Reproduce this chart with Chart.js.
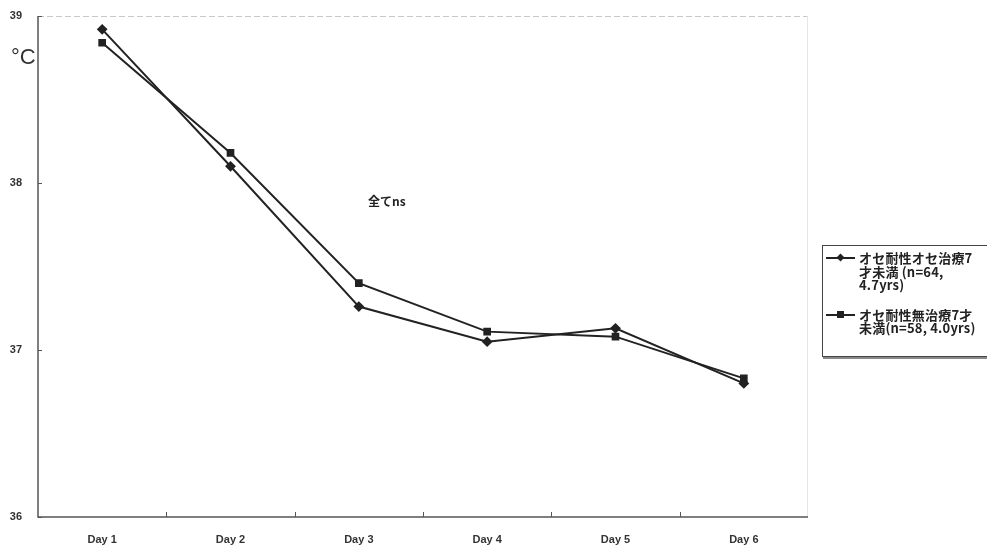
<!DOCTYPE html>
<html>
<head>
<meta charset="utf-8">
<script src="https://cdn.jsdelivr.net/npm/chart.js@4.4.1/dist/chart.umd.min.js"></script>
<style>
  html, body { margin: 0; padding: 0; background: #fff; }
  #wrap { position: relative; width: 987px; height: 547px; overflow: hidden; }
  canvas { display: block; }
  #legend {
    position: absolute; left: 822px; top: 245px; width: 180px; height: 110px;
    border: 1px solid #444; box-shadow: 1px 2px 0 #888; background: #fff;
    font-family: "Noto Sans CJK JP", "Liberation Sans", sans-serif; font-weight: bold;
    font-size: 13px; line-height: 13.5px; color: #222; letter-spacing: 0.2px;
  }
  .item { position: relative; padding-left: 36px; }
  .item .key { position: absolute; left: 3px; top: 6px; width: 29px; height: 2px; background: #222; }
  .item .key i { position: absolute; left: 11px; top: -3px; width: 7px; height: 7px; background: #222; }
  .item .key i.d { transform: rotate(45deg) scale(0.8); }
</style>
</head>
<body>
<div id="wrap">
  <canvas id="c" width="987" height="547"></canvas>
  <div id="legend"></div>
</div>
<script>
// Body temperature by day, two groups of children under 7
const days = ['Day 1', 'Day 2', 'Day 3', 'Day 4', 'Day 5', 'Day 6'];
const treatedName = 'オセ耐性オセ治療7才未満 (n=64, 4.7yrs)';
const treatedLines = ['オセ耐性オセ治療7', '才未満 (n=64,', '4.7yrs)'];
const treatedTemp = [38.92, 38.10, 37.26, 37.05, 37.13, 36.80];
const untreatedName = 'オセ耐性無治療7才未満(n=58, 4.0yrs)';
const untreatedLines = ['オセ耐性無治療7才', '未満(n=58, 4.0yrs)'];
const untreatedTemp = [38.84, 38.18, 37.40, 37.11, 37.08, 36.83];
const yTicks = [36, 37, 38, 39];
const unitLabel = '°C';
const note = '全てns';

const ink = '#222';
const axisColor = '#555';

// legend built from the series names
const legend = document.getElementById('legend');
[[treatedLines, 'd', '5px'], [untreatedLines, 's', '16px']].forEach(([lines, shape, gap]) => {
  const div = document.createElement('div');
  div.className = 'item';
  div.style.marginTop = gap;
  div.innerHTML = '<span class="key"><i class="' + shape + '"></i></span>' + lines.join('<br>');
  legend.appendChild(div);
});

const decor = {
  id: 'decor',
  afterDraw(chart) {
    const { ctx, chartArea: a, scales: { x, y } } = chart;
    ctx.save();
    // faint top and right frame
    ctx.strokeStyle = '#c8c8c8';
    ctx.lineWidth = 1;
    ctx.setLineDash([6, 3]);
    ctx.beginPath();
    ctx.moveTo(a.left, a.top + 0.5); ctx.lineTo(a.right, a.top + 0.5);
    ctx.stroke();
    ctx.setLineDash([]);
    ctx.strokeStyle = '#e6e6e6';
    ctx.beginPath();
    ctx.moveTo(a.right - 0.5, a.top); ctx.lineTo(a.right - 0.5, a.bottom);
    ctx.stroke();
    // axis lines
    ctx.strokeStyle = axisColor;
    ctx.lineWidth = 1.5;
    ctx.beginPath();
    ctx.moveTo(a.left, a.top); ctx.lineTo(a.left, a.bottom); ctx.lineTo(a.right, a.bottom);
    ctx.stroke();
    // inward tick marks
    ctx.lineWidth = 1;
    yTicks.forEach(v => {
      const py = Math.round(y.getPixelForValue(v)) + 0.5;
      ctx.beginPath(); ctx.moveTo(a.left, py); ctx.lineTo(a.left + 4, py); ctx.stroke();
    });
    for (let i = 1; i < days.length; i++) {
      const px = Math.round((x.getPixelForValue(i - 1) + x.getPixelForValue(i)) / 2) + 0.5;
      ctx.beginPath(); ctx.moveTo(px, a.bottom); ctx.lineTo(px, a.bottom - 5); ctx.stroke();
    }
    // unit and note
    ctx.fillStyle = '#333';
    ctx.font = '22px "Liberation Sans", Arial, sans-serif';
    ctx.textBaseline = 'middle';
    ctx.fillText(unitLabel, 11, 58);
    ctx.fillStyle = ink;
    ctx.font = 'bold 12px "Noto Sans CJK JP", "Liberation Sans", sans-serif';
    ctx.fillText(note, 368, 201);
    ctx.restore();
  }
};

new Chart(document.getElementById('c'), {
  type: 'line',
  data: {
    labels: days,
    datasets: [
      {
        label: treatedName, data: treatedTemp,
        borderColor: ink, backgroundColor: ink, borderWidth: 2,
        pointStyle: 'rectRot', pointRadius: 4, pointHoverRadius: 4, tension: 0
      },
      {
        label: untreatedName, data: untreatedTemp,
        borderColor: ink, backgroundColor: ink, borderWidth: 2,
        pointStyle: 'rect', pointRadius: 4, pointHoverRadius: 4, tension: 0
      }
    ]
  },
  options: {
    responsive: false,
    animation: false,
    layout: { padding: { top: 16, right: 179, left: 0, bottom: 0 } },
    plugins: { legend: { display: false }, tooltip: { enabled: false } },
    scales: {
      x: {
        offset: true,
        grid: { display: false },
        border: { display: false },
        ticks: { color: '#333', font: { family: '"Liberation Sans", Arial, sans-serif', size: 11, weight: 'bold' }, padding: 8, maxRotation: 0 },
        afterFit(s) { s.height = 30; }
      },
      y: {
        min: 36, max: 39,
        grid: { display: false },
        border: { display: false },
        afterBuildTicks(s) { s.ticks = yTicks.map(v => ({ value: v })); },
        ticks: { color: '#333', font: { family: '"Liberation Sans", Arial, sans-serif', size: 11, weight: 'bold' }, padding: 8 },
        afterFit(s) { s.width = 38; }
      }
    }
  },
  plugins: [decor]
});
</script>
</body>
</html>
